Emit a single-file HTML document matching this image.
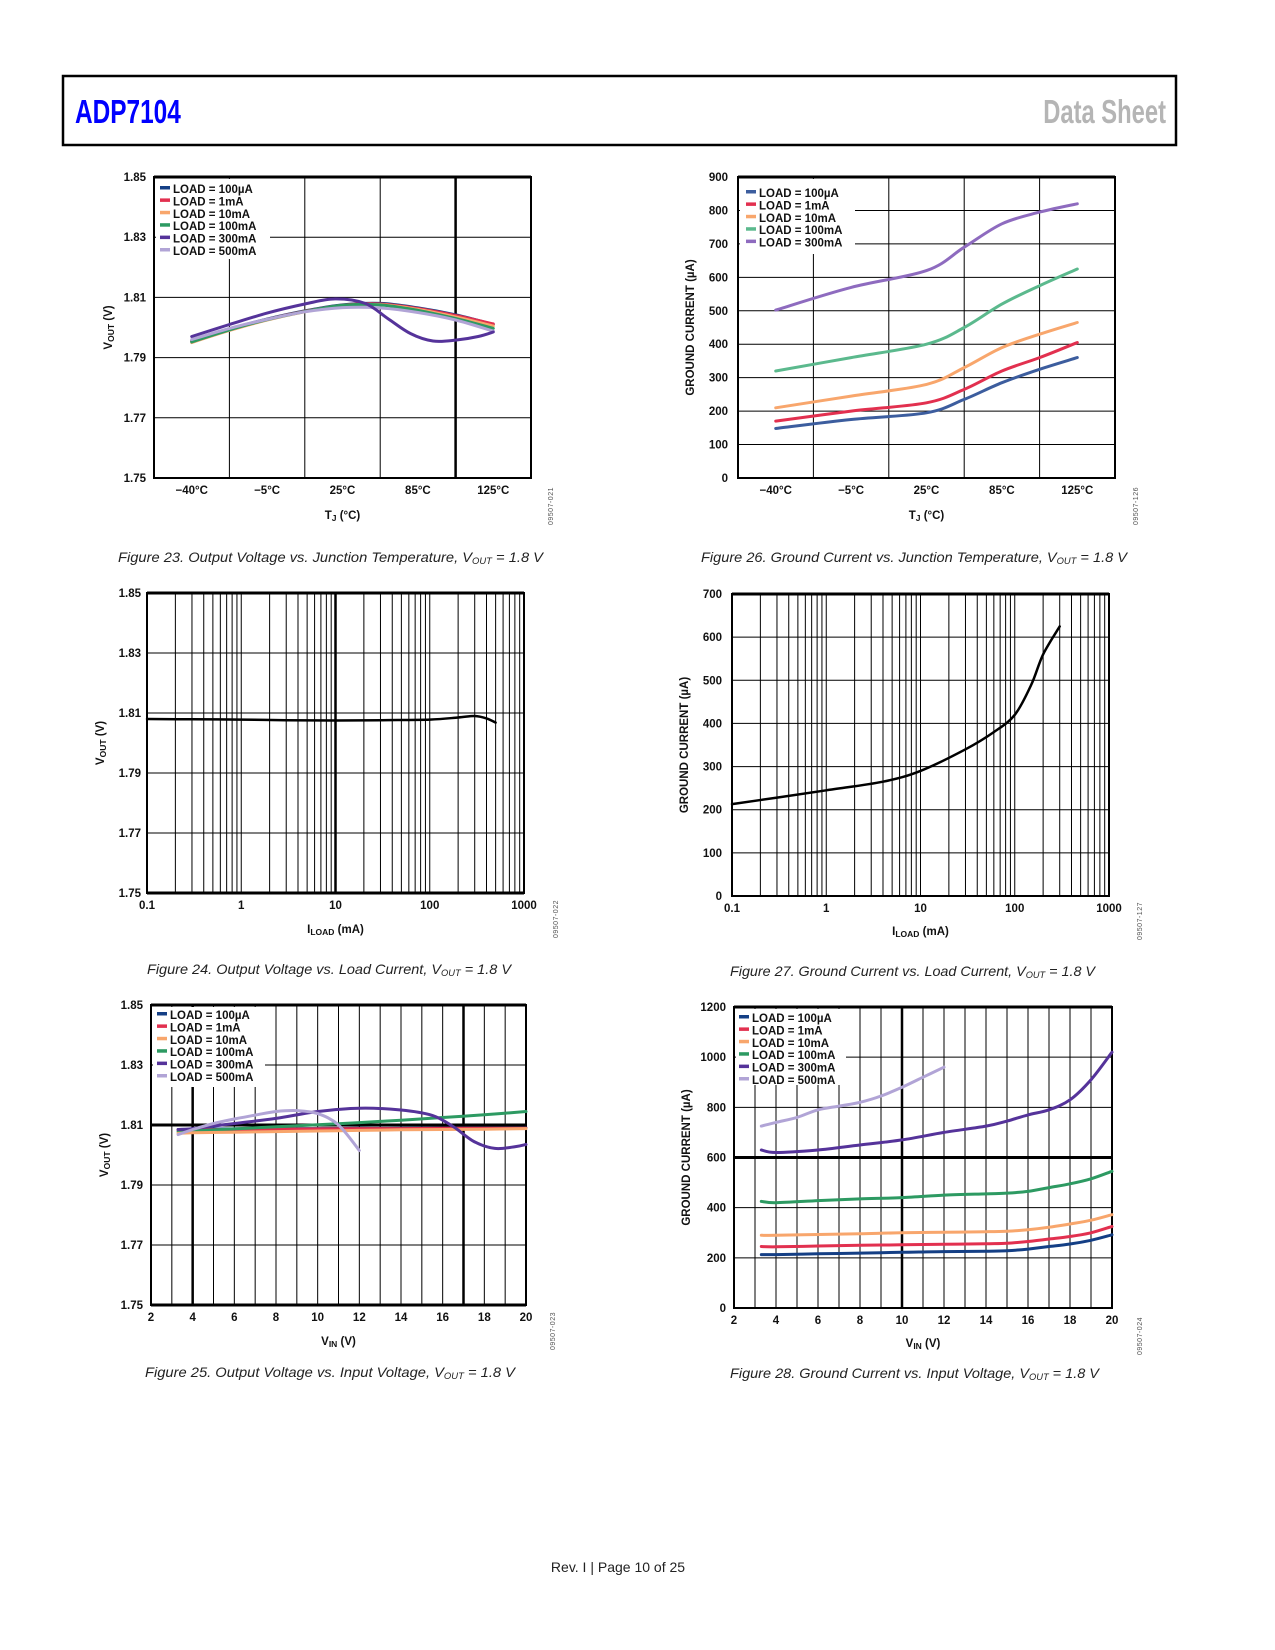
<!DOCTYPE html>
<html><head><meta charset="utf-8"><style>
html,body{margin:0;padding:0;background:#fff;}
svg{display:block;}
text{font-family:"Liberation Sans",sans-serif;}
.tk{font-size:11.5px;font-weight:bold;fill:#111;}
.lg{font-size:11.5px;font-weight:bold;fill:#111;}
.ttl{font-size:11.5px;font-weight:bold;fill:#111;}
.cap{font-size:14px;font-style:italic;fill:#222;}
.id{font-size:7px;fill:#555;letter-spacing:0.5px;}
</style></head><body>
<svg id="page" width="1275" height="1650" viewBox="0 0 1275 1650" xmlns="http://www.w3.org/2000/svg">
<rect x="63" y="76" width="1113" height="69" fill="none" stroke="#000" stroke-width="2.5"/>
<text x="75" y="123" fill="#0000ff" font-size="33" font-weight="bold" transform="translate(75 0) scale(0.74 1) translate(-75 0)">ADP7104</text>
<text x="1166" y="123" fill="#b5b5b5" font-size="33" font-weight="bold" text-anchor="end" transform="translate(1166 0) scale(0.72 1) translate(-1166 0)">Data Sheet</text>
<text x="618" y="1572" font-size="14" text-anchor="middle" fill="#222">Rev. I | Page 10 of 25</text>
<g id="charts"></g>
</svg>
<script>
// ---------- DATA ----------
const f23Ticks = ['\u221240\u00b0C','\u22125\u00b0C','25\u00b0C','85\u00b0C','125\u00b0C'];
const f23X = [0,0.5,1,1.5,2,2.5,3,3.5,4];
const f23Blue = [1.7955,1.7995,1.8028,1.8055,1.8075,1.808,1.8065,1.8042,1.801];
const f23Red = [1.7953,1.7993,1.8027,1.8054,1.8074,1.8078,1.8063,1.804,1.8012];
const f23Orange = [1.795,1.799,1.8025,1.8052,1.8072,1.8076,1.806,1.8035,1.8005];
const f23Green = [1.7952,1.7992,1.8026,1.8053,1.8074,1.8075,1.8057,1.803,1.7997];
const f23Lav = [1.796,1.7997,1.8027,1.8052,1.8066,1.8065,1.805,1.8025,1.7988];
const f23PurpleX = [0,0.5,1,1.5,1.9,2.3,2.6,2.9,3.2,3.5,3.8,4];
const f23Purple = [1.797,1.801,1.8048,1.8078,1.8095,1.808,1.803,1.798,1.7955,1.7958,1.797,1.7985];
const vTicks = [1.75,1.77,1.79,1.81,1.83,1.85];
const f26Ticks = ['\u221240\u00b0C','\u22125\u00b0C','25\u00b0C','85\u00b0C','125\u00b0C'];
const f26X = [0,1,2,2.5,3,3.5,4];
const f26Purple = [502,570,620,690,760,795,820];
const f26Green = [320,360,400,450,520,575,625];
const f26Orange = [210,245,280,330,390,430,465];
const f26Red = [170,200,225,265,320,360,405];
const f26Blue = [148,175,195,235,285,325,360];
const f26YTicks = [0,100,200,300,400,500,600,700,800,900];
const f24Load = [0.1,0.3,1,3,10,30,100,200,300,400,500];
const f24V = [1.808,1.8079,1.8078,1.8076,1.8075,1.8076,1.8078,1.8085,1.809,1.8082,1.8068];
const logTicks = [0.1,1,10,100,1000];
const f27Load = [0.1,0.3,1,4,10,30,60,100,150,200,300];
const f27I = [213,228,245,265,290,340,380,420,490,560,625];
const f27YTicks = [0,100,200,300,400,500,600,700];
const f25Vin = [3.3,4,6,8,10,12,14,16,18,20];
const f25Blue = [1.8085,1.8086,1.8087,1.8088,1.8088,1.8089,1.8089,1.809,1.809,1.809];
const f25Red = [1.8083,1.8084,1.8085,1.8086,1.8087,1.8088,1.8088,1.8089,1.8089,1.8089];
const f25Orange = [1.8072,1.8074,1.8076,1.8078,1.808,1.8082,1.8084,1.8085,1.8086,1.8088];
const f25Green = [1.8078,1.808,1.8087,1.8094,1.8101,1.8108,1.8116,1.8125,1.8134,1.8145];
const f25PurpleVin = [3.3,4,6,8,10,12,14,15.5,16.5,17.5,18.5,19.5,20];
const f25Purple = [1.8085,1.8088,1.8105,1.8122,1.8145,1.8156,1.815,1.8132,1.8095,1.8045,1.8022,1.8028,1.8035];
const f25LavVin = [3.3,4,5,6,7,8,9,10,11,12];
const f25Lav = [1.8068,1.8085,1.8105,1.812,1.8133,1.8145,1.8148,1.8138,1.81,1.8015];
const vinTicks = [2,4,6,8,10,12,14,16,18,20];
const f28Vin = [3.3,4,6,8,10,12,14,15,16,17,18,19,20];
const f28Blue = [213,213,216,219,222,225,226,228,235,245,255,270,292];
const f28Red = [245,244,247,250,252,254,256,258,265,275,285,300,325];
const f28Orange = [290,290,293,296,300,302,304,306,312,322,335,350,372];
const f28Green = [425,420,428,435,440,450,455,458,465,480,495,515,545];
const f28Purple = [630,620,630,650,670,700,725,745,770,790,830,910,1020];
const f28LavVin = [3.3,4,5,6,7,8,9,10,11,12];
const f28Lav = [725,740,760,790,805,820,845,880,920,960];
const f28YTicks = [0,200,400,600,800,1000,1200];
const legendLabels = ['LOAD = 100\u00b5A','LOAD = 1mA','LOAD = 10mA','LOAD = 100mA','LOAD = 300mA','LOAD = 500mA'];

// ---------- DRAWING ----------
const NS='http://www.w3.org/2000/svg';
const root=document.getElementById('charts');
function mk(tag,attrs,parent,name){
  const el=document.createElementNS(NS,tag);
  for(const k in attrs) el.setAttribute(k,attrs[k]);
  
  
  (parent||root).appendChild(el);
  return el;
}
function smooth(pts){
  let d='M'+pts[0][0].toFixed(1)+','+pts[0][1].toFixed(1);
  for(let i=0;i<pts.length-1;i++){
    const p0=pts[i-1]||pts[i],p1=pts[i],p2=pts[i+1],p3=pts[i+2]||p2;
    const c1=[p1[0]+(p2[0]-p0[0])/6,p1[1]+(p2[1]-p0[1])/6];
    const c2=[p2[0]-(p3[0]-p1[0])/6,p2[1]-(p3[1]-p1[1])/6];
    d+=' C'+c1[0].toFixed(1)+','+c1[1].toFixed(1)+' '+c2[0].toFixed(1)+','+c2[1].toFixed(1)+' '+p2[0].toFixed(1)+','+p2[1].toFixed(1);
  }
  return d;
}
function chart(c){
  const g=mk('g',{},root,c.name);
  const sx=v=>c.xlog? c.x0+(Math.log10(v)-Math.log10(c.xmin))/(Math.log10(c.xmax)-Math.log10(c.xmin))*(c.x1-c.x0)
                    : c.x0+(v-c.xmin)/(c.xmax-c.xmin)*(c.x1-c.x0);
  const sy=v=>c.y1-(v-c.ymin)/(c.ymax-c.ymin)*(c.y1-c.y0);
  c.vgrid.forEach(v=>{
    const thick=c.vthick.indexOf(v)>=0;
    mk('line',{x1:sx(v),x2:sx(v),y1:c.y0,y2:c.y1,stroke:'#000','stroke-width':thick?2.5:1},g,'vertical-gridline');
  });
  c.yticks.forEach(v=>{
    const thick=c.hthick.indexOf(v)>=0;
    mk('line',{x1:c.x0,x2:c.x1,y1:sy(v),y2:sy(v),stroke:'#000','stroke-width':thick?3:1},g,'horizontal-gridline');
  });
  mk('rect',{x:c.x0,y:c.y0,width:c.x1-c.x0,height:c.y1-c.y0,fill:'none',stroke:'#000','stroke-width':2},g,'plot-frame');
  mk('line',{x1:c.x0,x2:c.x1,y1:c.y0,y2:c.y0,stroke:'#000','stroke-width':3},g,'plot-top-border');
  c.yticks.forEach((v,i)=>{
    const t=mk('text',{x:c.x0-c.ylabOff,y:sy(v)+4,'text-anchor':'end',class:'tk'},g,'y-tick-label');
    t.textContent=c.yfmt(v);
  });
  c.xticks.forEach((v,i)=>{
    const t=mk('text',{x:sx(v),y:c.y1+16,'text-anchor':'middle',class:'tk'},g,'x-tick-label');
    t.textContent=c.xlabels[i];
  });
  if(c.legend){
    const L=c.legend;
    mk('rect',{x:c.x0+2,y:c.y0+2,width:L.w,height:L.h,fill:'#fff'},g,'legend-box');
    L.colors.forEach((col,i)=>{
      const y=L.y+i*12.4;
      mk('rect',{x:L.x,y:y-3,width:10,height:3.5,fill:col},g,'legend-swatch');
      const t=mk('text',{x:L.x+13,y:y+4,class:'lg'},g,'legend-entry');
      t.textContent=legendLabels[i];
    });
  }
  c.series.forEach(s=>{
    const pts=s.x.map((xv,i)=>[sx(xv),sy(s.y[i])]);
    mk('path',{d:smooth(pts),fill:'none',stroke:s.color,'stroke-width':s.w||3,'stroke-linecap':'round','stroke-linejoin':'round'},g,s.name);
  });
  const yt=mk('text',{x:0,y:0,'text-anchor':'middle',class:'ttl',transform:'translate('+c.ytx+' '+((c.y0+c.y1)/2)+') rotate(-90)'},g,'y-axis-title');
  yt.innerHTML=c.ytitle;
  const xt=mk('text',{x:(c.x0+c.x1)/2,y:c.xty,'text-anchor':'middle',class:'ttl'},g,'x-axis-title');
  xt.innerHTML=c.xtitle;
  const id=mk('text',{x:0,y:0,class:'id',transform:'translate('+c.idx+' '+c.idy+') rotate(-90)'},g,'figure-id');
  id.textContent=c.id;
  const cap=mk('text',{x:c.capx,y:c.capy,class:'cap',textLength:c.capw,lengthAdjust:'spacingAndGlyphs'},g,'figure-caption');
  cap.innerHTML=c.cap+', V<tspan font-size="9" dy="2">OUT</tspan><tspan dy="-2"> = 1.8 V</tspan>';
}
const VOUT='V<tspan font-size="8.5" dy="2">OUT</tspan><tspan dy="-2"> (V)</tspan>';
const GND='GROUND CURRENT (\u00b5A)';
const C={blue:'#143f85',red:'#e2304f',orange:'#f8a66c',green:'#2d9a62',purple:'#55339a',lav:'#b1a4d6'};
const range=(a,b,s)=>{const r=[];for(let v=a;v<=b+1e-9;v+=s)r.push(+v.toFixed(4));return r;};
const logGrid=()=>{const r=[];[0.1,1,10,100].forEach(d=>{for(let k=1;k<10;k++)r.push(+(d*k).toFixed(4));});r.push(1000);return r;};

chart({name:'figure-23-chart',x0:154,x1:531,y0:177,y1:478,xmin:-0.5,xmax:4.5,ymin:1.75,ymax:1.85,
  vgrid:[0.5,1.5,2.5,3.5],vthick:[3.5],yticks:vTicks,hthick:[1.85],ylabOff:8,yfmt:v=>v.toFixed(2),
  xticks:[0,1,2,3,4],xlabels:f23Ticks,
  legend:{x:160,y:189,w:114,h:80,colors:[C.blue,C.red,C.orange,C.green,C.purple,C.lav]},
  series:[{x:f23X,y:f23Blue,color:C.blue,name:'series-100ua'},{x:f23X,y:f23Red,color:C.red,name:'series-1ma'},
    {x:f23X,y:f23Orange,color:C.orange,name:'series-10ma'},{x:f23X,y:f23Green,color:C.green,name:'series-100ma'},
    {x:f23X,y:f23Lav,color:C.lav,name:'series-500ma'},{x:f23PurpleX,y:f23Purple,color:C.purple,name:'series-300ma'}],
  ytx:112,ytitle:VOUT,xty:519,xtitle:'T<tspan font-size="8.5" dy="2">J</tspan><tspan dy="-2"> (\u00b0C)</tspan>',
  idx:553,idy:525,id:'09507-021',capx:118,capy:562,capw:425,cap:'Figure 23. Output Voltage vs. Junction Temperature'});

chart({name:'figure-26-chart',x0:738,x1:1115,y0:177,y1:478,xmin:-0.5,xmax:4.5,ymin:0,ymax:900,
  vgrid:[0.5,1.5,2.5,3.5],vthick:[],yticks:f26YTicks,hthick:[900],ylabOff:10,yfmt:v=>String(v),
  xticks:[0,1,2,3,4],xlabels:f26Ticks,
  legend:{x:746,y:193,w:115,h:75,colors:['#3c5d9e','#e2304f','#f8a66c','#5bb98d','#8e6bbf']},
  series:[{x:f26X,y:f26Blue,color:'#3c5d9e',name:'series-100ua'},{x:f26X,y:f26Red,color:C.red,name:'series-1ma'},
    {x:f26X,y:f26Orange,color:C.orange,name:'series-10ma'},{x:f26X,y:f26Green,color:'#5bb98d',name:'series-100ma'},
    {x:f26X,y:f26Purple,color:'#8e6bbf',name:'series-300ma'}],
  ytx:694,ytitle:GND,xty:519,xtitle:'T<tspan font-size="8.5" dy="2">J</tspan><tspan dy="-2"> (\u00b0C)</tspan>',
  idx:1138,idy:525,id:'09507-126',capx:701,capy:562,capw:426,cap:'Figure 26. Ground Current vs. Junction Temperature'});

chart({name:'figure-24-chart',x0:147,x1:524,y0:593,y1:893,xlog:true,xmin:0.1,xmax:1000,ymin:1.75,ymax:1.85,
  vgrid:logGrid(),vthick:[10],yticks:vTicks,hthick:[1.85,1.75],ylabOff:6,yfmt:v=>v.toFixed(2),
  xticks:logTicks,xlabels:['0.1','1','10','100','1000'],
  series:[{x:f24Load,y:f24V,color:'#000',name:'series-vout',w:2.5}],
  ytx:104,ytitle:VOUT,xty:933,xtitle:'I<tspan font-size="8.5" dy="2">LOAD</tspan><tspan dy="-2"> (mA)</tspan>',
  idx:558,idy:938,id:'09507-022',capx:147,capy:974,capw:364,cap:'Figure 24. Output Voltage vs. Load Current'});

chart({name:'figure-27-chart',x0:732,x1:1109,y0:594,y1:896,xlog:true,xmin:0.1,xmax:1000,ymin:0,ymax:700,
  vgrid:logGrid(),vthick:[],yticks:f27YTicks,hthick:[],ylabOff:10,yfmt:v=>String(v),
  xticks:logTicks,xlabels:['0.1','1','10','100','1000'],
  series:[{x:f27Load,y:f27I,color:'#000',name:'series-ground-current',w:2.5}],
  ytx:688,ytitle:GND,xty:935,xtitle:'I<tspan font-size="8.5" dy="2">LOAD</tspan><tspan dy="-2"> (mA)</tspan>',
  idx:1142,idy:940,id:'09507-127',capx:730,capy:976,capw:365,cap:'Figure 27. Ground Current vs. Load Current'});

chart({name:'figure-25-chart',x0:151,x1:526,y0:1005,y1:1305,xmin:2,xmax:20,ymin:1.75,ymax:1.85,
  vgrid:range(3,19,1),vthick:[4,17],yticks:vTicks,hthick:[1.81,1.75],ylabOff:8,yfmt:v=>v.toFixed(2),
  xticks:vinTicks,xlabels:vinTicks.map(String),
  legend:{x:157,y:1015,w:112,h:80,colors:[C.blue,C.red,C.orange,C.green,C.purple,C.lav]},
  series:[{x:f25Vin,y:f25Blue,color:C.blue,name:'series-100ua'},{x:f25Vin,y:f25Red,color:C.red,name:'series-1ma'},
    {x:f25Vin,y:f25Green,color:C.green,name:'series-100ma'},{x:f25Vin,y:f25Orange,color:C.orange,name:'series-10ma'},
    {x:f25PurpleVin,y:f25Purple,color:C.purple,name:'series-300ma'},{x:f25LavVin,y:f25Lav,color:C.lav,name:'series-500ma'}],
  ytx:108,ytitle:VOUT,xty:1345,xtitle:'V<tspan font-size="8.5" dy="2">IN</tspan><tspan dy="-2"> (V)</tspan>',
  idx:555,idy:1350,id:'09507-023',capx:145,capy:1377,capw:370,cap:'Figure 25. Output Voltage vs. Input Voltage'});

chart({name:'figure-28-chart',x0:734,x1:1112,y0:1007,y1:1308,xmin:2,xmax:20,ymin:0,ymax:1200,
  vgrid:range(3,19,1),vthick:[10],yticks:f28YTicks,hthick:[600],ylabOff:8,yfmt:v=>String(v),
  xticks:vinTicks,xlabels:vinTicks.map(String),
  legend:{x:739,y:1018,w:110,h:76,colors:[C.blue,C.red,C.orange,C.green,C.purple,C.lav]},
  series:[{x:f28Vin,y:f28Blue,color:C.blue,name:'series-100ua'},{x:f28Vin,y:f28Red,color:C.red,name:'series-1ma'},
    {x:f28Vin,y:f28Orange,color:C.orange,name:'series-10ma'},{x:f28Vin,y:f28Green,color:C.green,name:'series-100ma'},
    {x:f28Vin,y:f28Purple,color:C.purple,name:'series-300ma'},{x:f28LavVin,y:f28Lav,color:C.lav,name:'series-500ma'}],
  ytx:690,ytitle:GND,xty:1347,xtitle:'V<tspan font-size="8.5" dy="2">IN</tspan><tspan dy="-2"> (V)</tspan>',
  idx:1142,idy:1355,id:'09507-024',capx:730,capy:1378,capw:369,cap:'Figure 28. Ground Current vs. Input Voltage'});
</script>
</body></html>
